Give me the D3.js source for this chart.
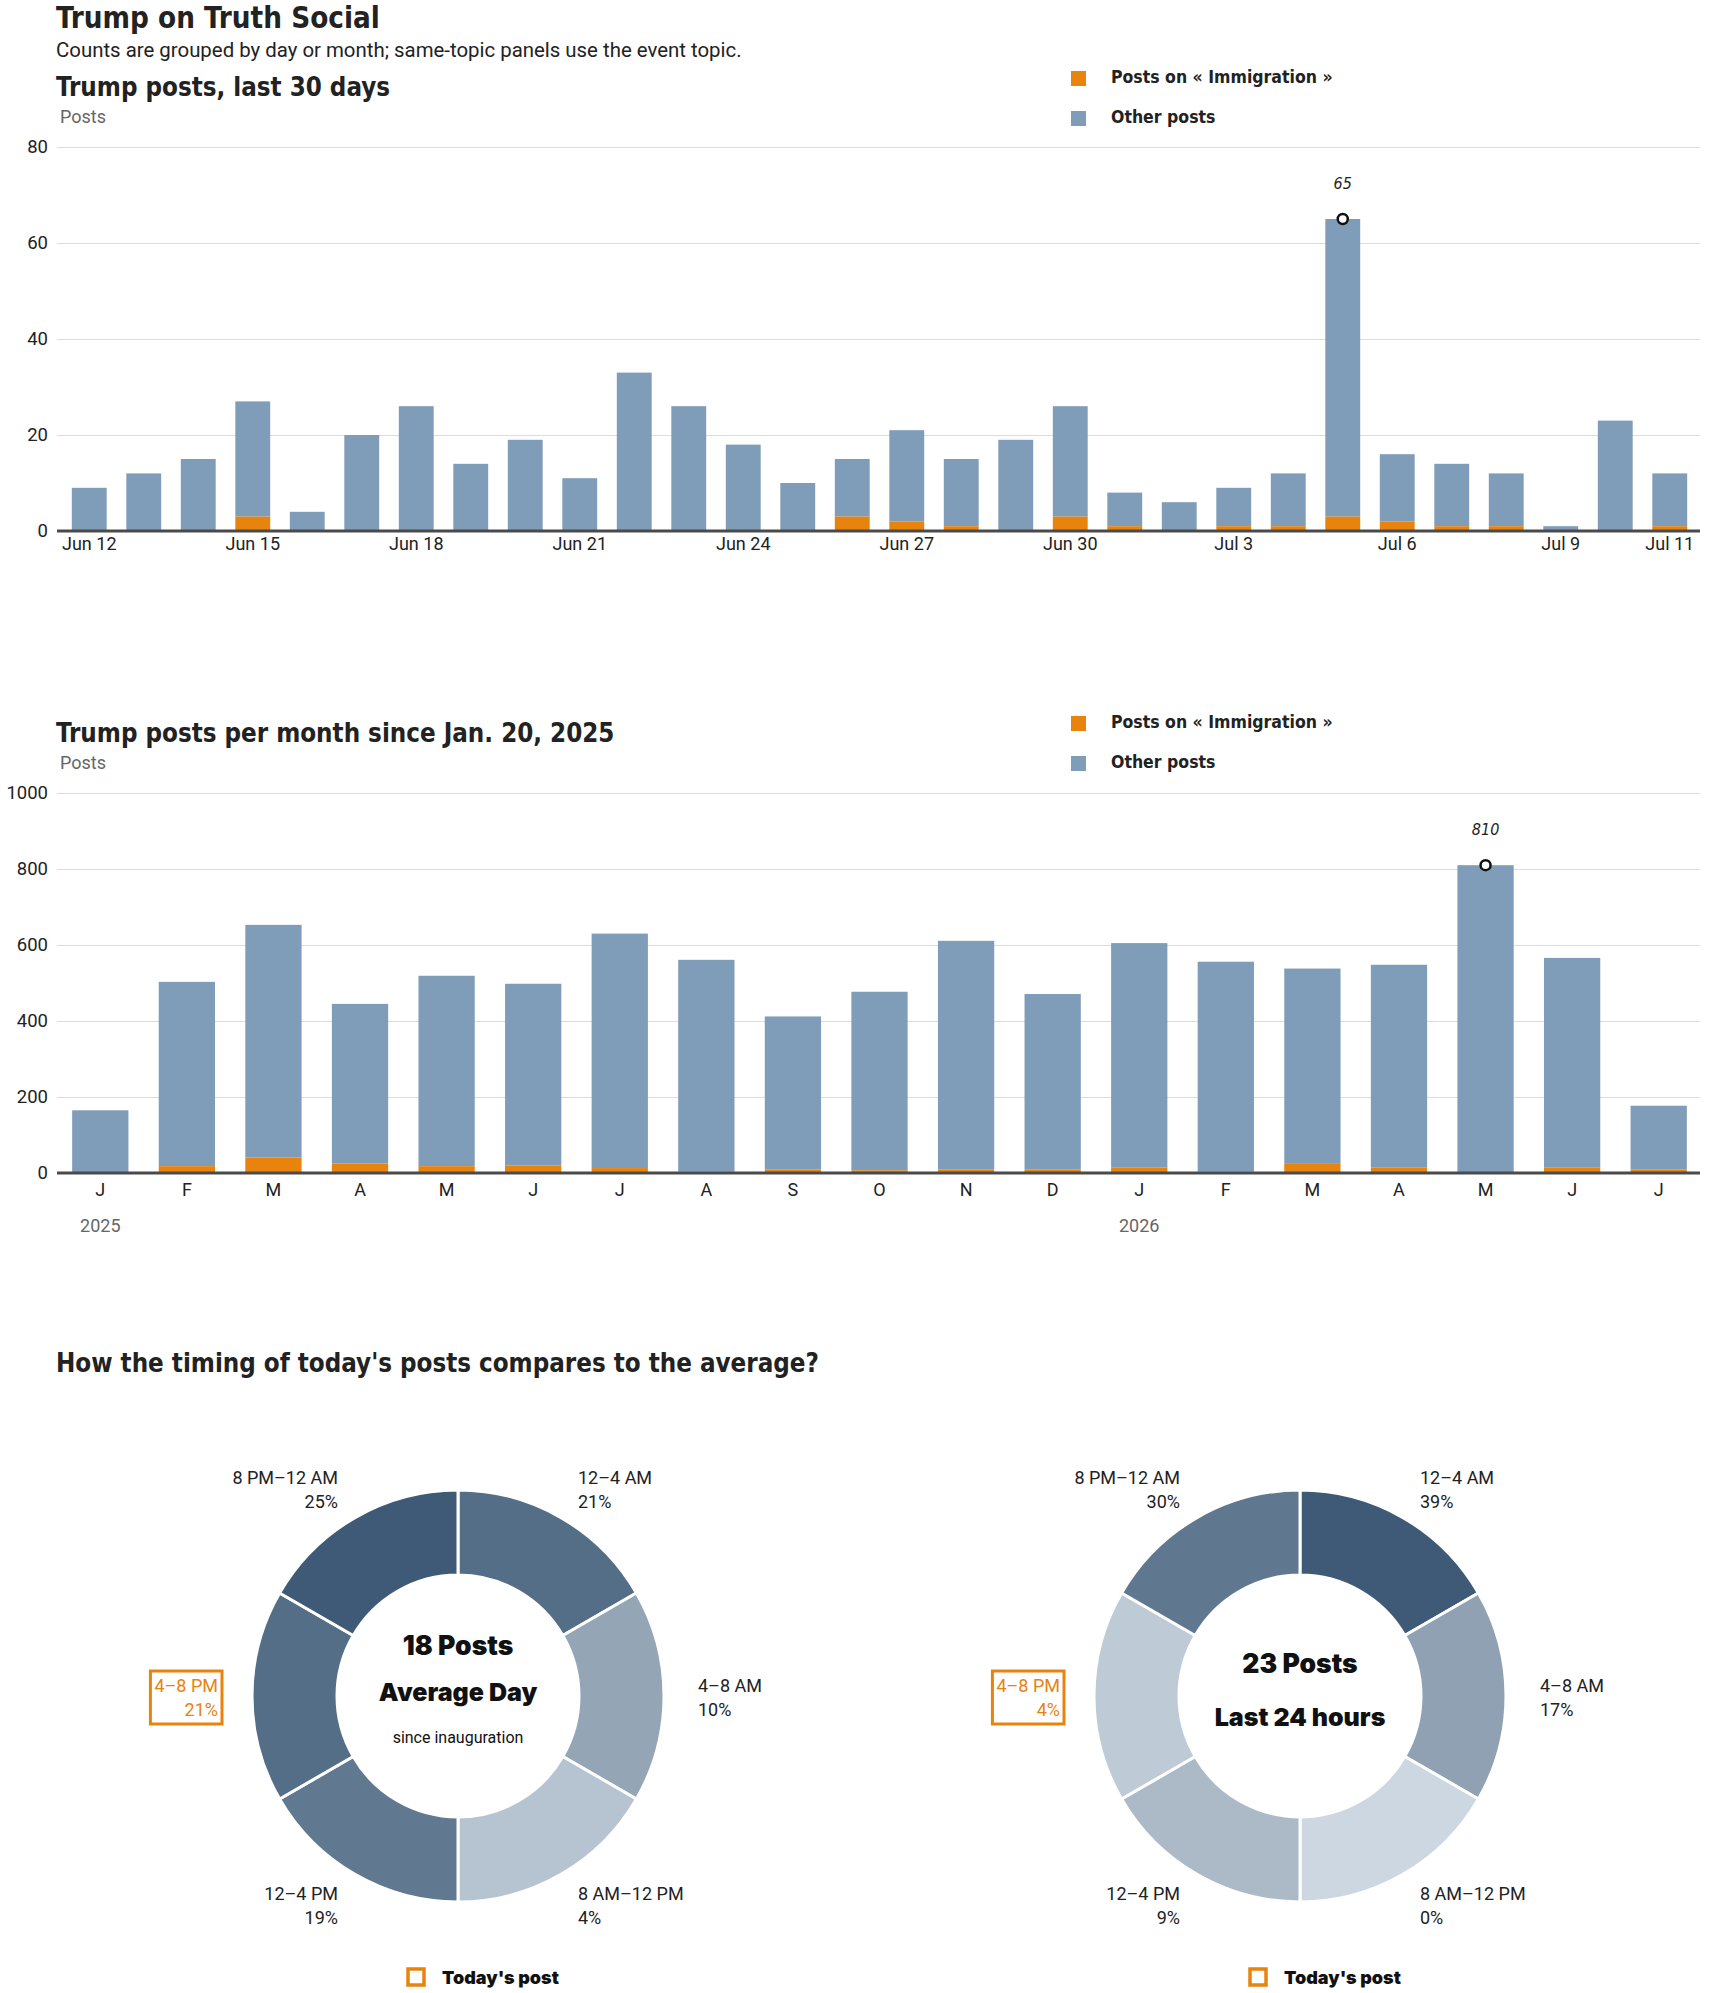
<!DOCTYPE html>
<html>
<head>
<meta charset="utf-8">
<script src="https://cdn.jsdelivr.net/npm/d3@7"></script>
<style>
body { margin: 0; background: #fff; }
</style>
</head>
<body>
<script>
// ---- data ----
var dayLabels = ["Jun 12","Jun 13","Jun 14","Jun 15","Jun 16","Jun 17","Jun 18","Jun 19","Jun 20","Jun 21",
    "Jun 22","Jun 23","Jun 24","Jun 25","Jun 26","Jun 27","Jun 28","Jun 29","Jun 30","Jul 1",
    "Jul 2","Jul 3","Jul 4","Jul 5","Jul 6","Jul 7","Jul 8","Jul 9","Jul 10","Jul 11"];
var dayTotals = [9,12,15,27,4,20,26,14,19,11, 33,26,18,10,15,21,15,19,26,8, 6,9,12,65,16,14,12,1,23,12];
var dayImmigration = [0,0,0,3,0,0,0,0,0,0, 0,0,0,0,3,2,1,0,3,1, 0,1,1,3,2,1,1,0,0,1];
var dayTicks = ["Jun 12","Jun 15","Jun 18","Jun 21","Jun 24","Jun 27","Jun 30","Jul 3","Jul 6","Jul 9","Jul 11"];
var dayYTicks = [0,20,40,60,80];

var monthKeys = ["2025-01","2025-02","2025-03","2025-04","2025-05","2025-06","2025-07","2025-08","2025-09","2025-10",
    "2025-11","2025-12","2026-01","2026-02","2026-03","2026-04","2026-05","2026-06","2026-07"];
var monthLetters = ["J","F","M","A","M","J","J","A","S","O","N","D","J","F","M","A","M","J","J"];
var monthTotals = [165,503,653,445,519,498,630,561,412,477,611,471,605,556,538,548,810,566,177];
var monthImmigration = [0,18,41,25,18,20,13,4,9,7,9,9,14,4,24,14,0,14,9];
var monthYTicks = [0,200,400,600,800,1000];
var yearKeys = ["2025-01","2026-01"];
var yearNames = ["2025","2026"];

var slots = ["12\u20134 AM","4\u20138 AM","8 AM\u201312 PM","12\u20134 PM","4\u20138 PM","8 PM\u201312 AM"];
var avgShares = [21,10,4,19,21,25];
var todayShares = [39,17,0,9,4,30];
var todaySlot = "4\u20138 PM";

var topic = "Immigration";

// ---- styles ----
var NARROW = "'Liberation Sans Narrow', 'Arial Narrow', 'DejaVu Sans Condensed', sans-serif";
var SANS = "Roboto, 'Liberation Sans', sans-serif";
var HEAVY = "Inter, Roboto, sans-serif";
var ORANGE = "#e8830e";
var BLUE = "#7f9db9";
var INK = "#222";

var width = 1710, height = 1993;

var svg = d3.select("body")
    .append("svg")
    .attr("width", width)
    .attr("height", height)
    .style("display", "block");

svg.append("text")
    .attr("x", 56).attr("y", 28)
    .attr("font-family", NARROW).attr("font-weight", "bold").attr("font-size", "29.3px")
    .attr("fill", INK)
    .text("Trump on Truth Social");

svg.append("text")
    .attr("x", 56).attr("y", 57)
    .attr("font-family", SANS).attr("font-size", "20.4px")
    .attr("fill", INK)
    .text("Counts are grouped by day or month; same-topic panels use the event topic.");

function legend(y0) {
    var items = [{label: "Posts on \u00ab " + topic + " \u00bb", color: ORANGE}, {label: "Other posts", color: BLUE}];
    var g = svg.append("g");
    items.forEach(function(d, i) {
        g.append("rect")
            .attr("x", 1071).attr("y", y0 + i * 40)
            .attr("width", 15).attr("height", 15)
            .attr("fill", d.color);
        g.append("text")
            .attr("x", 1111).attr("y", y0 + 12 + i * 40)
            .attr("font-family", NARROW).attr("font-weight", "bold").attr("font-size", "17.5px")
            .attr("fill", INK)
            .text(d.label);
    });
}

function stackedChart(o) {
    var g = svg.append("g");

    g.append("text")
        .attr("x", 56).attr("y", o.titleY)
        .attr("font-family", NARROW).attr("font-weight", "bold").attr("font-size", "25.7px")
        .attr("fill", INK)
        .text(o.title);
    g.append("text")
        .attr("x", 60).attr("y", o.titleY + 27)
        .attr("font-family", SANS).attr("font-size", "18px")
        .attr("fill", "#666")
        .text("Posts");

    legend(o.legendY);

    var x = d3.scaleBand()
        .domain(o.keys)
        .range(o.xRange)
        .paddingInner(o.pad)
        .paddingOuter(o.pad / 2);

    var y = d3.scaleLinear()
        .domain([0, d3.max(o.yTicks)])
        .range(o.yRange);

    var yAxis = d3.axisLeft(y)
        .tickValues(o.yTicks)
        .tickFormat(d3.format("d"))
        .tickSize(-(1700 - 57))
        .tickPadding(9);

    g.append("g")
        .attr("transform", "translate(57,0)")
        .call(yAxis)
        .call(function(a) {
            a.select(".domain").remove();
            a.selectAll("line").attr("stroke", "#dcdcdc").attr("stroke-width", 1.2);
            a.selectAll("text")
                .attr("font-family", SANS).attr("font-size", "18.5px").attr("fill", INK);
        });

    var rows = o.keys.map(function(k, i) {
        return {key: k, total: o.totals[i], topic: o.topics[i]};
    });

    g.append("g").selectAll("rect")
        .data(rows)
        .enter()
        .append("rect")
        .attr("x", function(d) { return x(d.key); })
        .attr("width", x.bandwidth())
        .attr("y", function(d) { return y(d.total); })
        .attr("height", function(d) { return y(d.topic) - y(d.total); })
        .attr("fill", BLUE);

    g.append("g").selectAll("rect")
        .data(rows)
        .enter()
        .append("rect")
        .attr("x", function(d) { return x(d.key); })
        .attr("width", x.bandwidth())
        .attr("y", function(d) { return y(d.topic); })
        .attr("height", function(d) { return y(0) - y(d.topic); })
        .attr("fill", ORANGE);

    g.append("line")
        .attr("x1", 57).attr("x2", 1700)
        .attr("y1", y(0)).attr("y2", y(0))
        .attr("stroke", "#4a4a4a").attr("stroke-width", 3);

    var xAxis = d3.axisBottom(x)
        .tickValues(o.tickKeys)
        .tickSize(0)
        .tickPadding(o.tickPad)
        .tickFormat(o.tickFormat);

    g.append("g")
        .attr("transform", "translate(0," + y(0) + ")")
        .call(xAxis)
        .call(function(a) {
            a.select(".domain").remove();
            a.selectAll("text")
                .attr("font-family", SANS).attr("font-size", "18px").attr("fill", INK);
        });

    // peak annotation
    var peak = rows.reduce(function(m, d) { return d.total > m.total ? d : m; }, rows[0]);
    var px = x(peak.key) + x.bandwidth() / 2;
    g.append("circle")
        .attr("cx", px).attr("cy", y(peak.total))
        .attr("r", 5)
        .attr("fill", "#fff")
        .attr("stroke", "#111").attr("stroke-width", 2.5);
    g.append("text")
        .attr("x", px).attr("y", y(peak.total) - 30)
        .attr("text-anchor", "middle")
        .attr("font-family", NARROW).attr("font-style", "italic").attr("font-size", "16px")
        .attr("fill", INK)
        .text(peak.total);

    return {g: g, x: x, y: y};
}

stackedChart({
    title: "Trump posts, last 30 days",
    titleY: 96,
    legendY: 71,
    keys: dayLabels,
    totals: dayTotals,
    topics: dayImmigration,
    yTicks: dayYTicks,
    xRange: [62, 1697],
    yRange: [531, 147],
    pad: 0.36,
    tickKeys: dayTicks,
    tickPad: 6,
    tickFormat: function(d) { return d; }
});

var monthly = stackedChart({
    title: "Trump posts per month since Jan. 20, 2025",
    titleY: 742,
    legendY: 716,
    keys: monthKeys,
    totals: monthTotals,
    topics: monthImmigration,
    yTicks: monthYTicks,
    xRange: [57, 1702],
    yRange: [1173, 793],
    pad: 0.35,
    tickKeys: monthKeys,
    tickPad: 10,
    tickFormat: function(d) { return monthLetters[monthKeys.indexOf(d)]; }
});

monthly.g.selectAll(".year")
    .data(yearKeys)
    .enter()
    .append("text")
    .attr("class", "year")
    .attr("x", function(d) { return monthly.x(d) + monthly.x.bandwidth() / 2; })
    .attr("y", 1232)
    .attr("text-anchor", "middle")
    .attr("font-family", SANS).attr("font-size", "18px")
    .attr("fill", "#666")
    .text(function(d, i) { return yearNames[i]; });

// ---- timing donuts ----
svg.append("text")
    .attr("x", 56).attr("y", 1372)
    .attr("font-family", NARROW).attr("font-weight", "bold").attr("font-size", "25.7px")
    .attr("fill", INK)
    .text("How the timing of today's posts compares to the average?");

var pie = d3.pie().value(1).sort(null);
var arc = d3.arc().innerRadius(121).outerRadius(206);

function donut(cx, shares, lines) {
    var cy = 1696;
    var g = svg.append("g").attr("transform", "translate(" + cx + "," + cy + ")");
    var color = d3.scaleLinear()
        .domain([0, d3.max(shares)])
        .range(["#cdd7e1", "#3e5a76"]);

    var rows = slots.map(function(s, i) { return {slot: s, share: shares[i]}; });
    var arcs = pie(rows);

    g.selectAll("path")
        .data(arcs)
        .enter()
        .append("path")
        .attr("d", arc)
        .attr("fill", function(d) { return color(d.data.share); })
        .attr("stroke", "#fff")
        .attr("stroke-width", 3);

    arcs.forEach(function(d) {
        var a = (d.startAngle + d.endAngle) / 2;
        var lx = 240 * Math.sin(a);
        var ly = -240 * Math.cos(a) - 4;
        var right = Math.sin(a) > 0;
        var hot = d.data.slot === todaySlot;
        var t = g.append("text")
            .attr("text-anchor", right ? "start" : "end")
            .attr("font-family", SANS).attr("font-size", "18px")
            .attr("fill", hot ? ORANGE : INK);
        t.append("tspan").attr("x", lx).attr("y", ly).text(d.data.slot);
        t.append("tspan").attr("x", lx).attr("y", ly + 24).text(d.data.share + "%");
        if (hot) {
            var b = t.node().getBBox();
            g.append("rect")
                .attr("x", b.x - 4).attr("y", b.y - 4)
                .attr("width", b.width + 8).attr("height", b.height + 8)
                .attr("fill", "none")
                .attr("stroke", ORANGE).attr("stroke-width", 3);
        }
    });

    lines.forEach(function(l) {
        g.append("text")
            .attr("x", 0).attr("y", l.y)
            .attr("text-anchor", "middle")
            .attr("font-family", l.small ? SANS : HEAVY)
            .attr("font-weight", l.small ? "normal" : 900)
            .attr("font-size", l.small ? "16px" : (l.size || 25) + "px")
            .attr("fill", "#111")
            .text(l.text);
    });

    g.append("rect")
        .attr("x", -50).attr("y", 273)
        .attr("width", 16).attr("height", 16)
        .attr("fill", "none")
        .attr("stroke", ORANGE).attr("stroke-width", 3.5);
    g.append("text")
        .attr("x", -16).attr("y", 288)
        .attr("font-family", HEAVY).attr("font-weight", 900).attr("font-size", "18px")
        .attr("fill", "#111")
        .text("Today's post");
}

donut(458, avgShares, [
    {text: "18 Posts", y: -41, size: 26.5},
    {text: "Average Day", y: 5},
    {text: "since inauguration", y: 47, small: true}
]);

donut(1300, todayShares, [
    {text: "23 Posts", y: -23, size: 26.5},
    {text: "Last 24 hours", y: 30}
]);
</script>
</body>
</html>
